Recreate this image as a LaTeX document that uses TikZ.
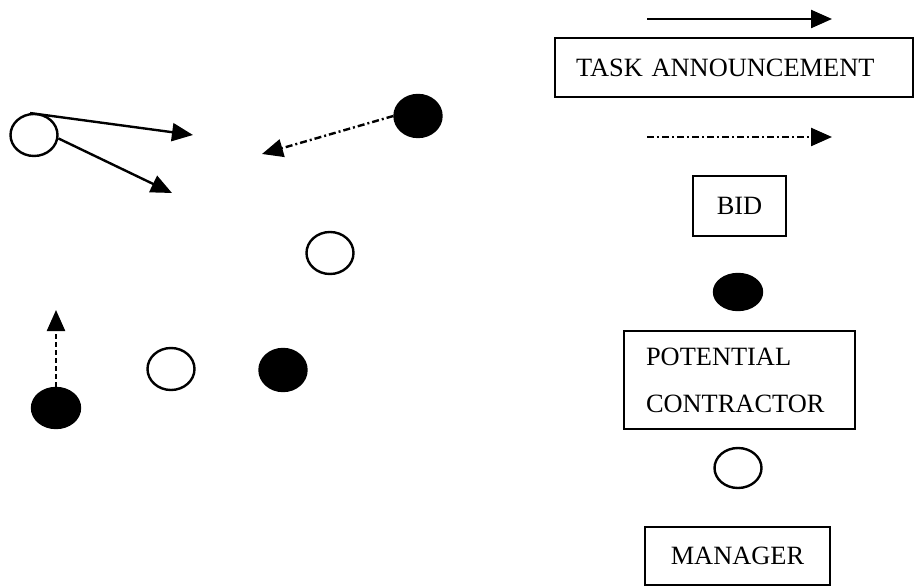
\documentclass[tikz,border=0pt]{standalone}
\usepackage{fontspec}
\setmainfont{Liberation Serif}
\usepackage{tikz}
\usetikzlibrary{arrows.meta, positioning, shapes.geometric}

\begin{document}
\begin{tikzpicture}[
  x=0.5pt, y=-0.5pt,
  agent/.style={ellipse, draw, line width=1.2pt, inner sep=0pt, minimum width=23.5pt, minimum height=21pt, fill=#1},
  agent/.default=white,
  tag/.style={draw, line width=1pt, inner sep=0pt, font=\fontsize{13.2}{23.5}\selectfont},
  announce/.style={-{Triangle[length=10.5pt, width=9pt]}, line width=1.2pt},
  bidarrow/.style={-{Triangle[length=10.5pt, width=9pt]}, line width=1.2pt, dash pattern=on 3.5pt off 1.5pt on 1pt off 1.5pt},
  offer/.style={-{Triangle[length=10.5pt, width=9pt]}, line width=1.2pt, dash pattern=on 2.5pt off 1.5pt},
]
  \useasboundingbox (0,0) rectangle (914,587);

  % agents on the left
  \node[agent] (mgrA) at (34,135) {};
  \node[agent=black] (conA) at (418,116) {};
  \node[agent] (mgrB) at (330,253) {};
  \node[agent] (mgrC) at (171,369) {};
  \node[agent=black] (conB) at (283,370) {};
  \node[agent=black, minimum width=24pt, minimum height=20pt] (conC) at (56,408) {};

  \coordinate (annTipA) at (193,135);
  \coordinate (annTipB) at (172,193);
  \coordinate (bidTip) at (262,154);
  \coordinate (offTip) at (56,310);

  \draw[announce] (mgrA.100) -- (annTipA);
  \draw[announce] (mgrA.-8) -- (annTipB);
  \draw[bidarrow] (conA.west) -- (bidTip);
  \draw[offer] (conC.north) -- (offTip);

  % legend
  \coordinate (keyAnnL) at (647,19);
  \coordinate (keyAnnR) at (832,19);
  \draw[announce] (keyAnnL) -- (keyAnnR);
  \node[tag, anchor=west, inner xsep=10.5pt, text width=158pt, align=left, minimum height=29.5pt] (keyAnn) at (554,67.5) {TASK ANNOUNCEMENT};

  \coordinate (keyBidL) at (647,137);
  \coordinate (keyBidR) at (832,137);
  \draw[bidarrow] (keyBidL) -- (keyBidR);
  \node[tag, minimum width=46.5pt, minimum height=30pt] (keyBid) at (739.5,206) {BID};

  \node[agent=black, minimum width=24pt, minimum height=18pt] (keyCon) at (738,292) {};
  \node[tag, anchor=west, inner xsep=11pt, text width=93.5pt, align=left, minimum height=49pt] (keyConTxt) at (623,380) {POTENTIAL\\CONTRACTOR};

  \node[agent, minimum height=20pt] (keyMgr) at (738,468) {};
  \node[tag, minimum width=92.5pt, minimum height=29pt] (keyMgrTxt) at (737.5,556) {MANAGER};
\end{tikzpicture}
\end{document}
